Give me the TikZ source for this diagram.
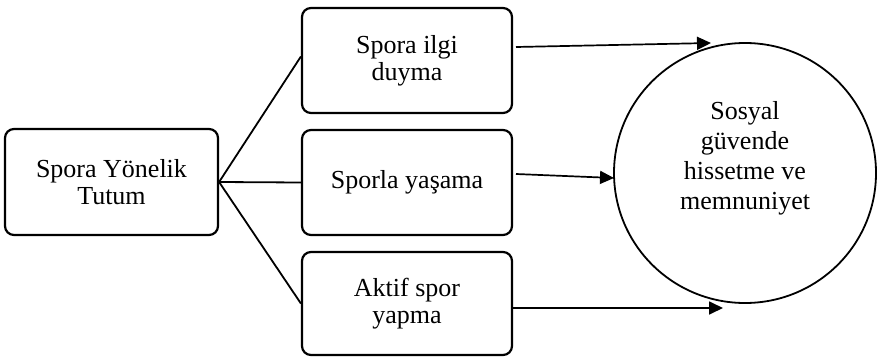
\documentclass[tikz,border=0pt]{standalone}
\usepackage{fontspec}
\setmainfont{Liberation Serif}
\usetikzlibrary{arrows.meta,shapes.geometric}

\tikzset{
  kutu/.style={draw, line width=2.2pt, rounded corners=9pt, align=center, inner sep=0pt,
    font=\fontsize{26}{27}\selectfont},
  cember/.style={draw, ellipse, line width=1.8pt, inner sep=0pt},
  baglanti/.style={line width=1.8pt},
  ok/.style={line width=1.7pt, -{Triangle[length=14pt,width=13pt]}}
}

\begin{document}
\begin{tikzpicture}[x=1pt,y=1pt,yscale=-1,xscale=1]
    \useasboundingbox (0,0) rectangle (877,361);

    % Text Node
    \draw (111.5,182) node [kutu, minimum width=213, minimum height=106] (tutum) {Spora Yönelik\\Tutum};
    % Text Node
    \draw (407,60.5) node [kutu, minimum width=210, minimum height=105] (ilgi) {Spora ilgi\\duyma};
    % Text Node
    \draw (407,182.5) node [kutu, minimum width=210, minimum height=105] (yasama) {Sporla yaşama};
    % Text Node
    \draw (407,303.5) node [kutu, minimum width=210, minimum height=103] (aktif) {Aktif spor\\yapma};
    % Circle
    \draw (745,173) node [cember, minimum width=262, minimum height=260] (memnun) {};
    % Text Node
    \draw (745,158) node [align=center, font=\fontsize{26}{30}\selectfont] (memnun-yazi) {Sosyal\\güvende\\hissetme ve\\memnuniyet};

    \coordinate (ilgi-cikis) at (516,47);
    \coordinate (memnun-ust) at (711,43);
    \coordinate (yasama-cikis) at (516,174);
    \coordinate (memnun-sol) at (614,178);
    \coordinate (aktif-cikis) at (512,308);
    \coordinate (memnun-alt) at (723,308);

    % Connection
    \draw [baglanti] (tutum.east) -- ([yshift=-4pt]ilgi.west);
    % Connection
    \draw [baglanti] (tutum.east) -- (yasama.west);
    % Connection
    \draw [baglanti] (tutum.east) -- (aktif.west);
    % Connection
    \draw [ok] (ilgi-cikis) -- (memnun-ust);
    % Connection
    \draw [ok] (yasama-cikis) -- (memnun-sol);
    % Connection
    \draw [ok] (aktif-cikis) -- (memnun-alt);

\end{tikzpicture}
\end{document}
